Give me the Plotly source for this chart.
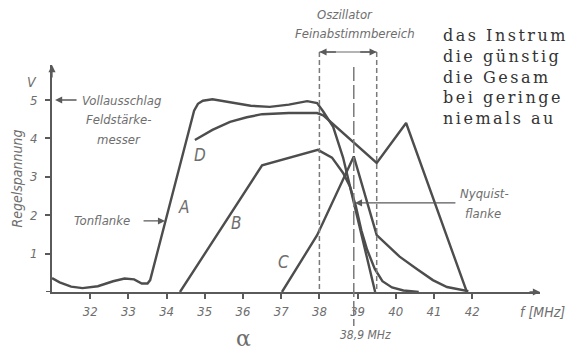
import plotly.graph_objects as go

W, H = 574, 352

# ---------------- data ----------------
curve_A_f = [31.0, 31.2, 31.5, 31.8, 32.2, 32.6, 32.9, 33.15, 33.35, 33.5, 33.57, 34.72, 34.82, 34.95, 35.2,
             35.66, 36.2, 36.7, 37.2, 37.68, 37.94, 38.1, 38.36, 38.62, 38.8, 38.95, 39.1, 39.25, 39.45,
             39.65, 39.9, 40.2, 40.6]
curve_A_v = [0.36, 0.25, 0.14, 0.10, 0.15, 0.28, 0.35, 0.33, 0.22, 0.22, 0.31, 4.72, 4.9, 4.98, 5.02,
             4.95, 4.85, 4.82, 4.88, 4.97, 4.92, 4.7, 4.3, 3.5, 2.75, 2.25, 1.6, 1.1, 0.6,
             0.28, 0.12, 0.04, 0.0]

curve_B_f = [34.35, 36.5, 37.96, 38.33, 38.62, 38.8, 39.46]
curve_B_v = [0.0, 3.3, 3.7, 3.5, 3.1, 2.75, 0.0]

curve_C_f = [37.02, 37.94, 38.9, 39.5, 39.8, 40.1, 40.55, 40.97, 41.34, 41.9]
curve_C_v = [0.0, 1.48, 3.53, 1.48, 1.2, 0.92, 0.6, 0.31, 0.13, 0.02]

curve_D_f = [34.74, 35.2, 35.66, 36.1, 36.5, 37.2, 37.94, 38.1, 39.5, 40.27, 41.86]
curve_D_v = [3.96, 4.22, 4.43, 4.55, 4.63, 4.66, 4.66, 4.6, 3.36, 4.4, 0.0]

x_ticks = [32, 33, 34, 35, 36, 37, 38, 39, 40, 41, 42]
y_ticks = [1, 2, 3, 4, 5]

osc_range = [38.0, 39.5]
pic_carrier = 38.9

x_range = [31.0, 43.775]
y_range = [0.0, 5.911]

# body text of the page, as far as it is visible at the right edge
side_text = ["das Instrum", "die günstig", "die Gesam", "bei geringe", "niemals au"]

# --------------- styles ---------------
CURVE = "#4d4d4d"
AX = "#5a5a5a"
TXT = "#6e6e6e"
FONT = "DejaVu Sans Condensed, Liberation Sans Narrow, DejaVu Sans, sans-serif"


def px(x):
    return x / W


def py(y):
    return 1 - y / H


fig = go.Figure()
for fx, vy in [(curve_A_f, curve_A_v), (curve_B_f, curve_B_v),
               (curve_C_f, curve_C_v), (curve_D_f, curve_D_v)]:
    fig.add_trace(go.Scatter(x=fx, y=vy, mode="lines",
                             line=dict(color=CURVE, width=2.4), hoverinfo="skip",
                             showlegend=False))

fig.update_layout(
    width=W, height=H, margin=dict(l=0, r=0, t=0, b=0),
    paper_bgcolor="white", plot_bgcolor="white",
    showlegend=False,
    xaxis=dict(domain=[px(52), px(540)], range=x_range, showgrid=False, zeroline=False,
               showline=True, linecolor=AX, linewidth=2, tickvals=x_ticks,
               ticktext=[str(t) for t in x_ticks], ticks="outside", ticklen=5,
               tickcolor=AX, tickwidth=1.5, ticklabelstandoff=1,
               tickfont=dict(family=FONT, size=13, color=TXT, style="italic")),
    yaxis=dict(domain=[py(292), py(65)], range=y_range, showgrid=False, zeroline=False,
               showline=True, linecolor=AX, linewidth=2, tickvals=y_ticks,
               ticktext=[str(t) for t in y_ticks], ticks="outside", ticklen=5,
               tickcolor=AX, tickwidth=1.5, ticklabelstandoff=5,
               tickfont=dict(family=FONT, size=13, color=TXT, style="italic"),
               title=dict(text="Regelspannung", standoff=4,
                          font=dict(family=FONT, size=14, color=TXT, style="italic"))),
)

shapes = []
for xv in osc_range:
    shapes.append(dict(type="line", xref="x", yref="paper", x0=xv, x1=xv, y0=py(52), y1=py(292),
                       line=dict(color="#7a7a7a", width=1.5, dash="5px,3px")))
shapes.append(dict(type="line", xref="x", yref="paper", x0=pic_carrier, x1=pic_carrier,
                   y0=py(67), y1=py(326), line=dict(color="#7a7a7a", width=1.5, dash="14px,4px")))
shapes.append(dict(type="line", xref="x", yref="paper", x0=osc_range[0], x1=osc_range[1],
                   y0=py(52), y1=py(52), line=dict(color="#6a6a6a", width=1.2)))
shapes.append(dict(type="line", xref="paper", yref="y", x0=px(46), x1=px(52), y0=0, y1=0,
                   line=dict(color=AX, width=2)))
fig.update_layout(shapes=shapes)

ann = []


def text(x, y, s, size=13, xanchor="center", color=TXT, family=FONT, style="italic",
         xref="paper", yref="paper", yanchor="middle", align="center"):
    ann.append(dict(x=x, y=y, xref=xref, yref=yref, text=s, showarrow=False,
                    xanchor=xanchor, yanchor=yanchor, align=align,
                    font=dict(family=family, size=size, color=color, style=style)))


def arrow(x, y, axp, ayp, xref="x", yref="y"):
    ann.append(dict(x=x, y=y, xref=xref, yref=yref, ax=axp, ay=ayp, text="", showarrow=True,
                    arrowhead=2, arrowsize=1.1, arrowwidth=1.3, arrowcolor="#5a5a5a"))


arrow(x_range[1], 0, -12, 0)
arrow(31, y_range[1], 0, 14)

text(px(32), py(82), "V", 14)
text(px(80), py(100), "Vollausschlag", 13, "left")
text(px(84), py(120), "Feldstärke-", 13, "left")
text(px(95), py(139), "messer", 13, "left")
arrow(31.08, 5.0, 23, 0)

text(px(72), py(220), "Tonflanke", 13, "left")
arrow(33.96, 1.85, -23, 0)

text(34.43, 2.21, "A", 17, xref="x", yref="y")
text(35.84, 1.80, "B", 17, xref="x", yref="y")
text(37.05, 0.78, "C", 17, xref="x", yref="y")
text(34.87, 3.57, "D", 17, xref="x", yref="y")

text(px(345), py(15), "Oszillator", 13)
text(px(355), py(34), "Feinabstimmbereich", 13)
arrow(osc_range[0], py(52), 18, 0, xref="x", yref="paper")
arrow(osc_range[1], py(52), -18, 0, xref="x", yref="paper")

arrow(38.93, 2.32, 102, 0)
text(px(458), py(193), "Nyquist-", 13, "left")
text(px(463), py(213), "flanke", 13, "left")

text(px(365), py(335), "38,9 MHz", 12)
text(px(243), py(338), "α", 22, style="normal", family="DejaVu Serif")
text(px(518), py(312), "f [MHz]", 14, "left")

body = "<br>".join('<span style="letter-spacing:2.5px">' + s + '</span>' for s in side_text)
text(px(441), py(24), body, 16, "left", color="#333333",
     family="DejaVu Serif, Liberation Serif, serif", style="normal", yanchor="top", align="left")

fig.update_layout(annotations=ann)
fig.write_html("out.html")
